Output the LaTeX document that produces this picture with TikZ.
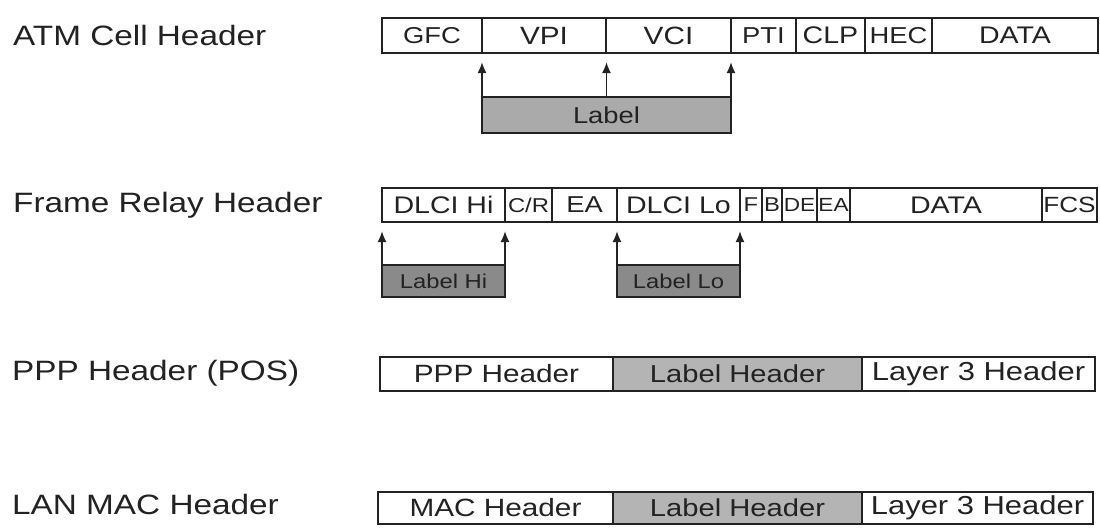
\documentclass[tikz,border=0pt]{standalone}
\usepackage{fontspec}
\setmainfont{Liberation Sans}[FakeStretch=1.19]
\usetikzlibrary{arrows.meta}
\newcommand\fsz[1]{\fontsize{#1pt}{#1pt}\selectfont}
\definecolor{ink}{HTML}{222222}
\definecolor{lblgray}{HTML}{AAAAAA}
\definecolor{dkgray}{HTML}{8A8A8A}
\definecolor{hdrgray}{HTML}{B4B4B4}
\tikzset{
  fld/.style={draw=ink, line width=2.2pt, inner sep=0pt, outer sep=0pt, anchor=north west, text=ink},
  rowlabel/.style={anchor=base west, inner sep=0pt, text=ink, font=\fsz{28}},
  arr/.style={-{Latex[length=11pt,width=9pt]}, draw=ink, line width=1.8pt, shorten >=9pt},
}
\begin{document}
\begin{tikzpicture}[x=1pt,y=-1pt]
\useasboundingbox (0,0) rectangle (1100,528);
% row labels
\node[rowlabel] (tatm) at (13,45) {ATM Cell Header};
\node[rowlabel] (tfr) at (13,212) {Frame Relay Header};
\node[rowlabel] (tppp) at (12,380) {PPP Header (POS)};
\node[rowlabel] (tmac) at (12,514) {LAN MAC Header};
% ATM row
\node[fld, minimum width=100pt, minimum height=35pt, font=\fsz{23}] (gfc) at (382,18) {GFC};
\node[fld, minimum width=124pt, minimum height=35pt, font=\fsz{25}] (vpi) at (482,18) {VPI};
\node[fld, minimum width=125pt, minimum height=35pt, font=\fsz{25}] (vci) at (606,18) {VCI};
\node[fld, minimum width=65pt, minimum height=35pt, font=\fsz{23}] (pti) at (731,18) {PTI};
\node[fld, minimum width=69pt, minimum height=35pt, font=\fsz{24}] (clp) at (796,18) {CLP};
\node[fld, minimum width=67pt, minimum height=35pt, font=\fsz{23}] (hec) at (865,18) {HEC};
\node[fld, minimum width=166pt, minimum height=35pt, font=\fsz{24}] (adata) at (932,18) {DATA};
\node[fld, fill=lblgray, minimum width=249pt, minimum height=36pt, font=\fsz{23}] (alabel) at (482,97) {Label};
\draw[arr] (alabel.north west) -- (gfc.south east);
\draw[arr] (alabel.north) -- (alabel.north |- vpi.south east);
\draw[arr] (alabel.north east) -- (vci.south east);
% Frame relay row
\node[fld, minimum width=123pt, minimum height=34pt, font=\fsz{24}] (dhi) at (382,188) {DLCI Hi};
\node[fld, minimum width=47pt, minimum height=34pt, font=\fsz{20}] (cr) at (505,188) {C/R};
\node[fld, minimum width=65pt, minimum height=34pt, font=\fsz{23}] (ea1) at (552,188) {EA};
\node[fld, minimum width=123pt, minimum height=34pt, font=\fsz{24}] (dlo) at (617,188) {DLCI Lo};
\node[fld, minimum width=22pt, minimum height=34pt, font=\fsz{20}] (ff) at (740,188) {F};
\node[fld, minimum width=20pt, minimum height=34pt, font=\fsz{20}] (fb) at (762,188) {B};
\node[fld, minimum width=35pt, minimum height=34pt, font=\fsz{19}] (fde) at (782,188) {DE};
\node[fld, minimum width=33pt, minimum height=34pt, font=\fsz{19}] (ea2) at (817,188) {EA};
\node[fld, minimum width=192pt, minimum height=34pt, font=\fsz{24}] (fdata) at (850,188) {DATA};
\node[fld, minimum width=55pt, minimum height=34pt, font=\fsz{22}] (fcs) at (1042,188) {FCS};
\node[fld, fill=dkgray, minimum width=123pt, minimum height=32pt, font=\fsz{20}] (lhi) at (382,265) {Label Hi};
\node[fld, fill=dkgray, minimum width=123pt, minimum height=32pt, font=\fsz{20}] (llo) at (617,265) {Label Lo};
\draw[arr] (lhi.north west) -- (dhi.south west);
\draw[arr] (lhi.north east) -- (dhi.south east);
\draw[arr] (llo.north west) -- (dlo.south west);
\draw[arr] (llo.north east) -- (dlo.south east);
% PPP row
\node[fld, minimum width=233pt, minimum height=34pt, font=\fsz{25}] (ppph) at (380,357) {PPP Header};
\node[fld, fill=hdrgray, minimum width=249pt, minimum height=34pt, font=\fsz{24.5}] (pplab) at (613,357) {Label Header};
\node[fld, minimum width=233pt, minimum height=34pt, font=\fsz{26}] (ppl3) at (862,357) {Layer 3 Header};
% MAC row
\node[fld, minimum width=235pt, minimum height=32pt, font=\fsz{25}] (mach) at (378,492) {MAC Header};
\node[fld, fill=hdrgray, minimum width=249pt, minimum height=32pt, font=\fsz{24.5}] (maclab) at (613,492) {Label Header};
\node[fld, minimum width=231pt, minimum height=32pt, font=\fsz{26}] (macl3) at (862,492) {Layer 3 Header};
\end{tikzpicture}
\end{document}
